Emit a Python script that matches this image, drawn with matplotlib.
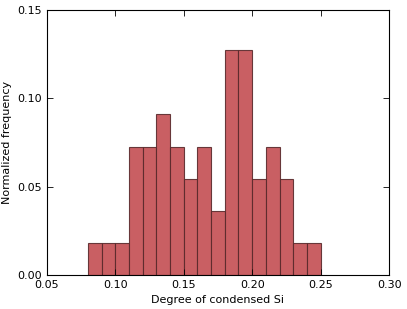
import matplotlib
matplotlib.use("Agg")
import matplotlib.pyplot as plt

# bin left edges (width 0.01) and normalized frequency per bin
bin_left = [0.08, 0.09, 0.10, 0.11, 0.12, 0.13, 0.14, 0.15, 0.16,
            0.17, 0.18, 0.19, 0.20, 0.21, 0.22, 0.23, 0.24]
freq = [0.0182, 0.0182, 0.0182, 0.0727, 0.0727, 0.0909, 0.0727, 0.0545, 0.0727,
        0.0364, 0.1273, 0.1273, 0.0545, 0.0727, 0.0545, 0.0182, 0.0182]
xticks = [0.05, 0.10, 0.15, 0.20, 0.25, 0.30]
yticks = [0.00, 0.05, 0.10, 0.15]

fig = plt.figure(figsize=(4.07, 3.09), dpi=100)
ax = fig.add_axes([0.115, 0.110, 0.841, 0.858])

ax.bar(bin_left, freq, width=0.01, align='edge', color='#C44E52', alpha=0.9,
       edgecolor='#5a2a2c', linewidth=0.8)

ax.set_xlim(0.05, 0.30)
ax.set_ylim(0, 0.15)
ax.set_xticks(xticks)
ax.set_xticklabels([f"{t:.2f}" for t in xticks])
ax.set_yticks(yticks)
ax.set_yticklabels([f"{t:.2f}" for t in yticks])
ax.tick_params(direction='in', top=True, right=True, labelsize=8, length=4, width=0.6)
for s in ax.spines.values():
    s.set_linewidth(0.8)

ax.set_xlabel("Degree of condensed Si", fontsize=8)
ax.set_ylabel("Normalized frequency", fontsize=8)

fig.savefig("out.png", dpi=100)
